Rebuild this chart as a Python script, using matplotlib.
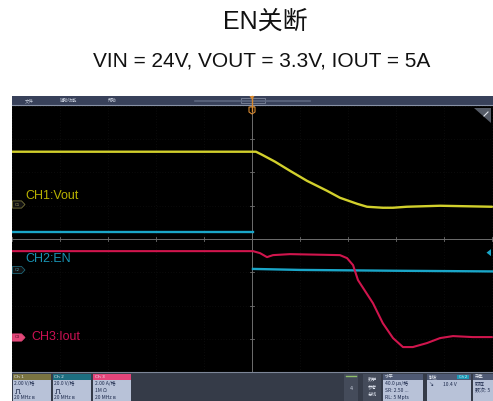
import matplotlib
matplotlib.use("Agg")
import matplotlib.pyplot as plt
import numpy as np
from matplotlib.patches import Rectangle, Polygon

# ---------------- data ----------------
title = "EN关断"
subtitle = "VIN = 24V, VOUT = 3.3V, IOUT = 5A"

# time in microseconds (40 us/div, trigger at centre)
t_vout = [-200, 0, 3.3, 8.3, 19.2, 31.7, 45.8, 62.5, 73.3, 87.5, 95.8, 109, 117.5, 129, 156.7, 200]
vout = [3.25, 3.25, 3.25, 3.07, 2.65, 2.1, 1.5, 0.9, 0.48, 0.12, -0.06, -0.12, -0.12, -0.06, 0.0, -0.06]

t_en_high = [-200, 0.5]
en_high = [22.9, 22.9]
t_en_low = [0.8, 40, 120, 200]
en_low = [0.6, 0.0, -0.5, -0.9]

t_iout = [-200, 0.8, 6.7, 12.5, 17.5, 31.7, 73.3, 79.2, 84.2, 88.3, 100.8, 109, 117.5, 125.8,
          134, 145.8, 156.7, 167.5, 184, 200]
iout = [5.23, 5.23, 5.11, 4.87, 4.99, 5.05, 4.99, 4.81, 4.39, 3.49, 2.1, 0.9, 0.0, -0.54,
        -0.54, -0.3, 0.0, 0.12, 0.06, 0.06]

ch_names = ["CH1:Vout", "CH2:EN", "CH3:Iout"]
ch_scale = [2.0, 20.0, 2.0]        # units per division
ch_offset = [1.0, -0.93, -2.98]    # ground position in divisions
trig_level = 10.4                  # V on CH2

badge_lines = [["2.00 V/格", "", "20 MHz ʙ"], ["20.0 V/格", "", "20 MHz ʙ"], ["2.00 A/格", "1M Ω", "20 MHz ʙ"]]
coupling_icon = [True, True, False]

col_y = "#d2d02c"
col_c = "#1aa6c8"
col_r = "#d0154d"
lab_y = "#b9b200"
lab_c = "#1893b3"
lab_r = "#cc1153"

W, H = 493, 401
fig = plt.figure(figsize=(W / 100, H / 100), dpi=100)
fig.patch.set_facecolor("white")

def fx(x):
    return x / W

def fy(y):
    return 1 - y / H

# ---------------- scope screen ----------------
ax = fig.add_axes([fx(12), fy(372), 481 / W, 266 / H])
ax.set_facecolor("black")
ax.set_xlim(-200, 200.83)
ax.set_ylim(-4, 4)
for s in ax.spines.values():
    s.set_visible(False)
ax.set_xticks([])
ax.set_yticks([])

for t in np.arange(-200, 201, 40):
    ax.axvline(t, color="#161616", lw=0.5, ls=(0, (1, 3)), zorder=1)
for d in np.arange(-4, 5, 1):
    ax.axhline(d, color="#161616", lw=0.5, ls=(0, (1, 3)), zorder=1)
ax.axhline(0, color="#6e6e6e", lw=0.7, zorder=2)
ax.axvline(0, color="#6e6e6e", lw=0.7, zorder=2)
for t in np.arange(-200, 201, 40):
    ax.plot([t, t], [-0.06, 0.06], color="#6e6e6e", lw=0.6, zorder=2)
for d in np.arange(-4, 5, 1):
    ax.plot([-2.0, 2.0], [d, d], color="#6e6e6e", lw=0.6, zorder=2)

def to_div(vals, i):
    return np.asarray(vals) / ch_scale[i] + ch_offset[i]

ax.plot(t_vout, to_div(vout, 0), color=col_y, lw=1.7, zorder=5, solid_capstyle="round")
ax.plot(t_en_high, to_div(en_high, 1), color=col_c, lw=1.7, zorder=4)
ax.plot(t_en_low, to_div(en_low, 1), color=col_c, lw=1.7, zorder=4)
ax.plot(t_iout, to_div(iout, 2), color=col_r, lw=1.5, zorder=4, solid_capstyle="round")

# ---------------- UI overlay ----------------
ui = fig.add_axes([0, 0, 1, 1], zorder=10)
ui.set_xlim(0, W)
ui.set_ylim(H, 0)
ui.axis("off")
ui.patch.set_alpha(0)

cjk = ["Noto Sans CJK SC", "DejaVu Sans"]
lat = ["Liberation Sans", "Noto Sans CJK SC", "DejaVu Sans"]

ui.text(265, 22, title, ha="center", va="center", fontsize=18, family=["Liberation Sans", "Noto Sans CJK SC"], color="#111111")
ui.text(262, 61, subtitle, ha="center", va="center", fontsize=15, family=lat, color="#111111")

# top menu bar
ui.add_patch(Rectangle((12, 96), 481, 9, facecolor="#38415a", edgecolor="none"))
ui.plot([12, 493], [105, 105], color="#8892a6", lw=0.8)
for x, s in [(25, "文件"), (60, "辅助功能"), (108, "帮助")]:
    ui.text(x, 100.5, s, fontsize=3.2, family=cjk, color="#c8cfdd", va="center")
ui.plot([195, 310], [100.5, 100.5], color="#5d6780", lw=1.2)
ui.add_patch(Rectangle((241, 98), 24, 5, facecolor="none", edgecolor="#8a93a8", lw=0.5))
# trigger position marker
ui.plot([252, 252], [96, 111], color="#d98a30", lw=1.0)
ui.add_patch(Polygon([[249, 107], [255, 107], [255, 112], [252, 114], [249, 112]], closed=True,
                     facecolor="none", edgecolor="#d98a30", lw=0.8))
ui.add_patch(Polygon([[249.5, 96], [254.5, 96], [252, 99.5]], closed=True, facecolor="#d98a30", edgecolor="none"))
# top-right key
ui.add_patch(Polygon([[474, 108], [491, 108], [491, 123]], closed=True, facecolor="#555b66", edgecolor="none"))
ui.plot([484, 488], [116, 112], color="#dfe3ea", lw=0.8)

# channel labels
ui.text(25, 196, ch_names[0], fontsize=9, family=lat, color=lab_y, va="center")
ui.text(25, 258.5, ch_names[1], fontsize=9, family=lat, color=lab_c, va="center")
ui.text(31, 336.5, ch_names[2], fontsize=9, family=lat, color=lab_r, va="center")

def tag(yc, face, edge, txt, tcol):
    ui.add_patch(Polygon([[12.5, yc - 3.6], [21.5, yc - 3.6], [25, yc], [21.5, yc + 3.6], [12.5, yc + 3.6]],
                         closed=True, facecolor=face, edgecolor=edge, lw=0.6))
    ui.text(17, yc, txt, fontsize=2.8, color=tcol, ha="center", va="center")

tag(204.5, "#111111", "#77733a", "C1", "#a9a466")
tag(270, "#111111", "#1d6577", "C2", "#4fa0b5")
tag(337.5, "#e4487a", "#e4487a", "C3", "#4a0a20")

# trigger level arrow on right
ydiv = trig_level / ch_scale[1] + ch_offset[1]
ypix = 239 - ydiv * 33.25
ui.add_patch(Polygon([[486.5, ypix], [491, ypix - 3.5], [491, ypix + 3.5]], closed=True, facecolor=col_c, edgecolor="none"))

# bottom panel
ui.add_patch(Rectangle((12, 372), 481, 29, facecolor="#353b48", edgecolor="none"))
ui.plot([12, 493], [372.3, 372.3], color="#7d8698", lw=0.8)

heads = ["#7a7442", "#1d6e80", "#e2457a"]
hnames = ["Ch 1", "Ch 2", "Ch 3"]
for i, x0 in enumerate([12.5, 52.5, 93]):
    ui.add_patch(Rectangle((x0, 373.5), 38, 27.5, facecolor="#b8c2d8", edgecolor="none"))
    ui.add_patch(Rectangle((x0, 373.5), 38, 6, facecolor=heads[i], edgecolor="none"))
    ui.text(x0 + 2, 376.6, hnames[i], fontsize=3.2, color="#e8ecf3", va="center")
    for j, s in enumerate(badge_lines[i]):
        ui.text(x0 + 2, 384 + 6.6 * j, s, fontsize=3.6, family=cjk, color="#1d2a4c", va="center")
    if coupling_icon[i]:
        # small DC-coupling glyph (square pulse)
        ui.plot([x0 + 2, x0 + 3, x0 + 3, x0 + 6, x0 + 6, x0 + 7],
                [392.5, 392.5, 388.8, 388.8, 392.5, 392.5], color="#1d2a4c", lw=0.5)

# right side boxes
ui.add_patch(Rectangle((344, 373.5), 14, 27.5, facecolor="#444b5a", edgecolor="none"))
ui.plot([346, 356], [375.5, 375.5], color="#8fbf6a", lw=1.0)
ui.text(351, 388, "4", fontsize=3.6, color="#c8cfdd", ha="center", va="center")
ui.add_patch(Rectangle((363, 373.5), 18, 27.5, facecolor="#444b5a", edgecolor="none"))
for j, s in enumerate(["数学", "参考", "总线"]):
    ui.text(372, 379 + 8 * j, s, fontsize=3.3, family=cjk, color="#dfe4ee", ha="center", va="center")

boxes = [(383, 40, "水平", ["40.0 µs/格", "SR: 2.50 ...", "RL: 5 Mpts"]),
         (427, 44, "触发", ["↘        10.4 V", "", ""]),
         (473, 20, "采集", ["取样", "数次: 5", ""])]
for x0, w, hd, lines in boxes:
    ui.add_patch(Rectangle((x0, 373.5), w, 27.5, facecolor="#b8c2d8", edgecolor="none"))
    ui.add_patch(Rectangle((x0, 373.5), w, 6, facecolor="#4f5a74", edgecolor="none"))
    ui.text(x0 + 2, 376.6, hd, fontsize=3.2, family=cjk, color="#e8ecf3", va="center")
    for j, s in enumerate(lines):
        ui.text(x0 + 2, 384 + 6.6 * j, s, fontsize=3.6, family=cjk, color="#1d2a4c", va="center")
ui.add_patch(Rectangle((457, 374.5), 12, 4, facecolor="#1e9bb8", edgecolor="none"))
ui.text(463, 376.5, "Ch 2", fontsize=2.6, color="#e8f6fa", ha="center", va="center")

fig.savefig("out.png", dpi=100, facecolor="white")
